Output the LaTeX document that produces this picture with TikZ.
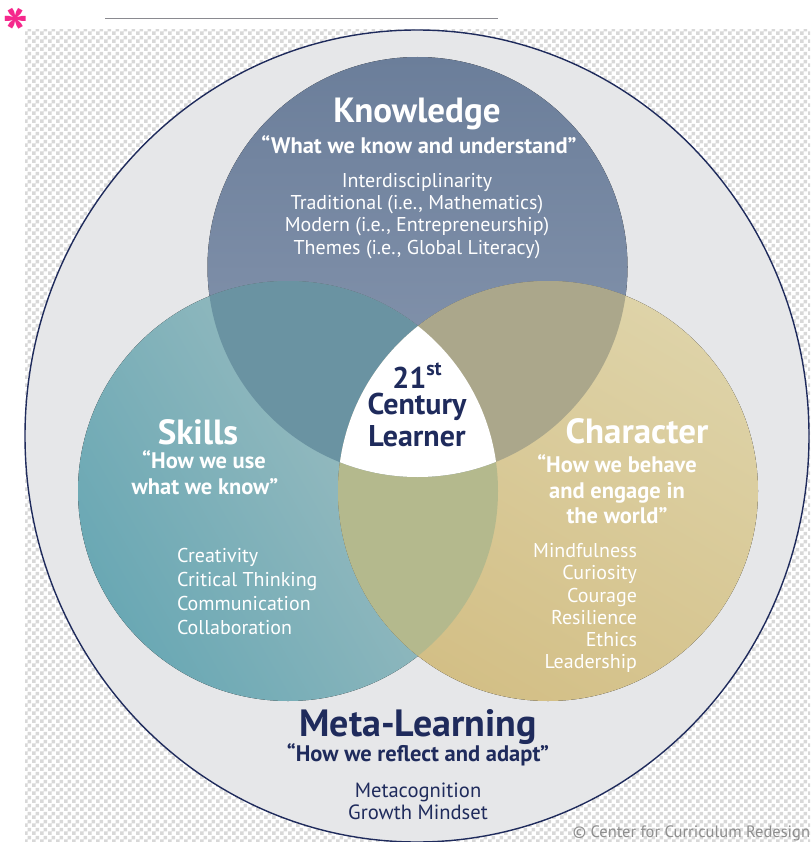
\documentclass[tikz,border=0pt]{standalone}
\usepackage{fontspec}
\setmainfont{PT Sans}
\usetikzlibrary{patterns}
\pgfdeclarepatternformonly{bigcheck}{\pgfpointorigin}{\pgfqpoint{8pt}{8pt}}{\pgfqpoint{8pt}{8pt}}{%
  \pgfpathrectangle{\pgfpointorigin}{\pgfqpoint{4pt}{4pt}}%
  \pgfpathrectangle{\pgfqpoint{4pt}{4pt}}{\pgfqpoint{4pt}{4pt}}%
  \pgfusepath{fill}}
\definecolor{chk}{HTML}{D8D8D8}
\definecolor{bgray}{HTML}{E6E7E9}
\definecolor{navy}{HTML}{1F2B5C}
\definecolor{Ktop}{HTML}{6B7E9A}
\definecolor{Kbot}{HTML}{8A99B1}
\definecolor{Sleft}{HTML}{6AA8B4}
\definecolor{Sright}{HTML}{A6C1C3}
\definecolor{Ctop}{HTML}{DED3A8}
\definecolor{Cbot}{HTML}{D3BF86}
\definecolor{KS}{HTML}{6A93A2}
\definecolor{KC}{HTML}{ABA78B}
\definecolor{SC}{HTML}{B4B98D}
\definecolor{pinkast}{HTML}{F5288C}
\definecolor{copy}{HTML}{8E8E8E}
\definecolor{topline}{HTML}{8A8A90}
\begin{document}
\begin{tikzpicture}[x=1pt,y=-1pt,
  txt/.style={anchor=base, inner sep=0pt, outer sep=0pt},
  ttl/.style={txt, text=white, font=\fontsize{35}{35}\selectfont\bfseries},
  quo/.style={txt, text=white, font=\fontsize{22.5}{22.5}\selectfont\bfseries},
  itm/.style={txt, text=white, font=\fontsize{20}{20}\selectfont},
  nttl/.style={ttl, text=navy, font=\fontsize{38}{38}\selectfont\bfseries},
  nquo/.style={quo, text=navy},
  nitm/.style={itm, text=navy, font=\fontsize{20.6}{20.6}\selectfont},
  ctr/.style={txt, text=navy, font=\fontsize{30}{26}\selectfont\bfseries},
  ring/.style={draw=navy, line width=1.4pt, fill=bgray}
]
\useasboundingbox (0,0) rectangle (810,842);
\fill[white] (0,0) rectangle (810,842);
\fill[pattern=bigcheck, pattern color=chk] (25,30) rectangle (810,842);
\draw[topline, line width=1pt] (105,19) -- (498,19);
\node[txt, text=pinkast, font=\fontsize{70}{70}\selectfont\bfseries] (ast) at (16,60) {*};

% outer ring
\draw[ring] (417,436) ellipse [x radius=392, y radius=406];

% circle centres
\coordinate (kc) at (417.5,267);
\coordinate (sc) at (288,491);
\coordinate (cc) at (548,491);

% three circles
\fill[top color=Ktop, bottom color=Kbot] (kc) circle [radius=210];
\fill[left color=Sleft, right color=Sright, shading angle=120] (sc) circle [radius=210];
\fill[top color=Ctop, bottom color=Cbot, shading angle=-30] (cc) circle [radius=210];

% overlaps
\begin{scope}
  \clip (sc) circle [radius=210];
  \fill[SC] (cc) circle [radius=210];
\end{scope}
\begin{scope}
  \clip (kc) circle [radius=210];
  \fill[KS] (sc) circle [radius=210];
  \fill[KC] (cc) circle [radius=210];
  \clip (sc) circle [radius=210];
  \fill[white] (cc) circle [radius=210];
\end{scope}

% Knowledge
\node[ttl] (kt) at (417,123) {Knowledge};
\node[quo] (kq) at (419,154) {“What we know and understand”};
\node[itm] (k1) at (417,188) {Interdisciplinarity};
\node[itm] (k2) at (417,210) {Traditional (i.e., Mathematics)};
\node[itm] (k3) at (417,232) {Modern (i.e., Entrepreneurship)};
\node[itm] (k4) at (417,254) {Themes (i.e., Global Literacy)};

% Skills
\node[ttl] (st) at (198,444) {Skills};
\node[quo] (sq1) at (204,468) {“How we use};
\node[quo] (sq2) at (205,494) {what we know”};
\node[itm, anchor=base west] (s1) at (177,562) {Creativity};
\node[itm, anchor=base west] (s2) at (177,586) {Critical Thinking};
\node[itm, anchor=base west] (s3) at (177,610) {Communication};
\node[itm, anchor=base west] (s4) at (177,634) {Collaboration};

% Character
\node[ttl] (ct) at (637,443) {Character};
\node[quo] (cq1) at (617,472) {“How we behave};
\node[quo] (cq2) at (617,498) {and engage in};
\node[quo] (cq3) at (617,523) {the world”};
\node[itm, anchor=base east] (c1) at (637,557) {Mindfulness};
\node[itm, anchor=base east] (c2) at (637,579) {Curiosity};
\node[itm, anchor=base east] (c3) at (637,602) {Courage};
\node[itm, anchor=base east] (c4) at (637,624) {Resilience};
\node[itm, anchor=base east] (c5) at (637,646) {Ethics};
\node[itm, anchor=base east] (c6) at (637,668) {Leadership};

% centre
\node[ctr] (ctrtext) at (417,388) {\renewcommand{\arraystretch}{0}%
  \begin{tabular}[t]{@{}c@{}}%
  \smash{21\raisebox{0.42em}{\fontsize{20}{20}\selectfont st}}\rule[-4pt]{0pt}{4pt}\\
  \smash{Century}\rule[-10pt]{0pt}{32pt}\\
  \smash{Learner}\rule{0pt}{22pt}%
  \end{tabular}};

% Meta-learning
\node[nttl] (mt) at (418,736) {Meta-Learning};
\node[nquo] (mq) at (418,761) {“How we reflect and adapt”};
\node[nitm] (m1) at (418,797) {Metacognition};
\node[nitm] (m2) at (418,819) {Growth Mindset};

\node[txt, anchor=base east, text=copy, font=\fontsize{16.5}{16.5}\selectfont] (cr) at (810,837) {© Center for Curriculum Redesign};
\end{tikzpicture}
\end{document}
